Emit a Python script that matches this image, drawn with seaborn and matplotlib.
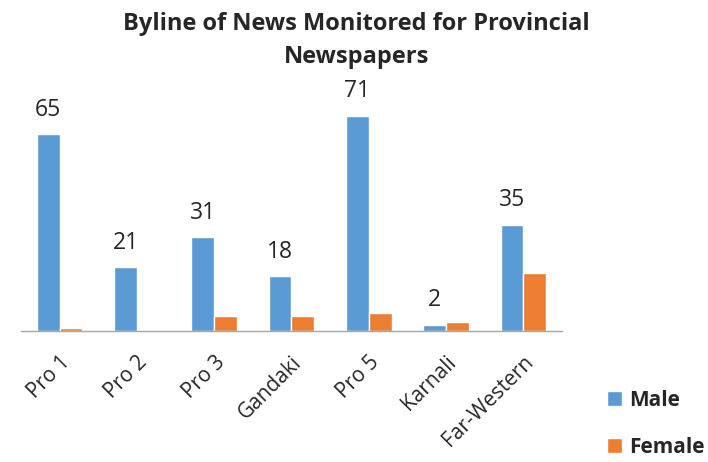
import pandas as pd
import numpy as np
import matplotlib
matplotlib.use("Agg")
import matplotlib.pyplot as plt
import seaborn as sns

categories = ["Pro 1", "Pro 2", "Pro 3", "Gandaki", "Pro 5", "Karnali", "Far-Western"]
male = [65, 21, 31, 18, 71, 2, 35]
female = [1, 0, 5, 5, 6, 3, 19]

df = pd.DataFrame({
    "province": categories * 2,
    "count": male + female,
    "gender": ["Male"] * len(categories) + ["Female"] * len(categories),
})

sns.set_style("white")
plt.rcParams["font.family"] = ["Open Sans", "DejaVu Sans"]

fig = plt.figure(figsize=(7.08, 4.62), dpi=100)
ax = fig.add_axes([0.0297, 0.2835, 0.764, 0.5247])

sns.barplot(data=df, x="province", y="count", hue="gender",
            palette={"Male": "#5B9BD5", "Female": "#ED7D31"},
            width=0.59, saturation=1, ax=ax)

# only the male bars carry value labels
ax.bar_label(ax.containers[0], padding=9, fontsize=16.5)

ax.set_ylim(0, 80)
ax.set_xlim(-0.5, len(categories) - 0.5)
ax.set_xlabel("")
ax.set_ylabel("")
ax.set_yticks([])
for s in ["top", "right", "left"]:
    ax.spines[s].set_visible(False)
ax.spines["bottom"].set_color("#A6A6A6")
ax.spines["bottom"].set_linewidth(1)

ax.set_xticks(range(len(categories)))
ax.set_xticklabels(categories, rotation=45, ha="right", rotation_mode="anchor", fontsize=15)
ax.set_xticks(np.arange(-0.5, len(categories)), minor=True)
ax.tick_params(axis="x", which="major", length=0, pad=15)
ax.tick_params(axis="x", which="minor", length=6, color="#A6A6A6", width=1)

fig.suptitle("Byline of News Monitored for Provincial\nNewspapers", x=0.503, y=0.975,
             fontsize=17, fontweight="bold", linespacing=1.5)

leg = ax.legend(loc="upper left", bbox_to_anchor=(0.857, 0.156),
                bbox_transform=fig.transFigure, frameon=False,
                handlelength=0.72, handleheight=0.72, handletextpad=0.35,
                labelspacing=1.25, borderpad=0, borderaxespad=0,
                prop={"weight": "bold", "size": 15})

fig.savefig("out.png", dpi=100)
